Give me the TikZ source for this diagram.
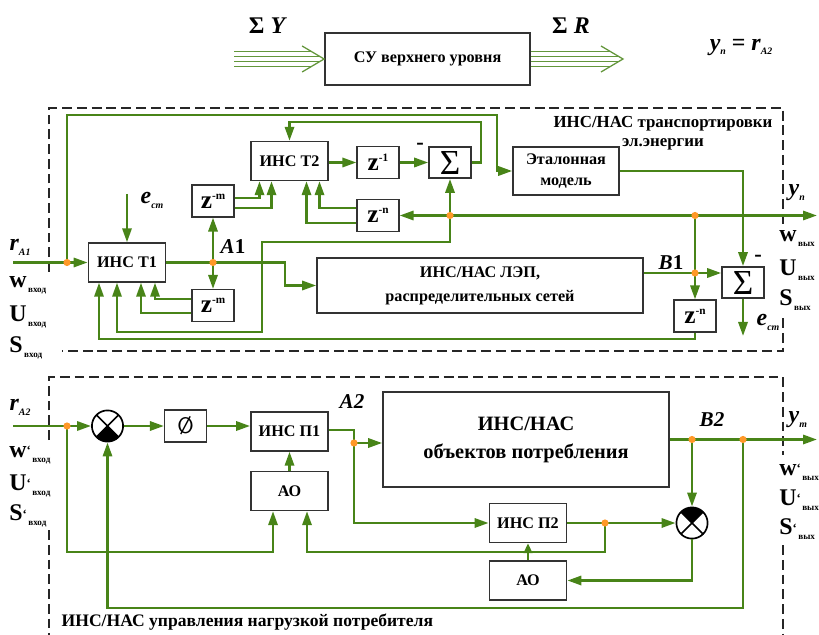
\documentclass[tikz,border=0pt]{standalone}
\usepackage{fontspec}
\setmainfont{Liberation Serif}
\usetikzlibrary{calc,arrows.meta}
\definecolor{sigGreen}{RGB}{72,132,24}
\definecolor{jOrange}{RGB}{255,152,40}
\newcommand{\zinv}[1]{z\raisebox{0.8ex}{\fontsize{8}{8}\selectfont -#1}}
\newcommand{\ivar}[2]{{\itshape #1}\raisebox{-0.45ex}{\fontsize{7}{7}\selectfont\itshape #2}}
\newcommand{\chan}[3]{#1\smash{\raisebox{0.25ex}{\fontsize{9}{9}\selectfont#2}}\smash{\raisebox{-0.45ex}{\fontsize{6.5}{7}\selectfont\,#3}}}
\tikzset{
  blk/.style={rectangle, draw=black!80, fill=white, line width=1.1pt, inner sep=0pt,
              align=center, font=\fontsize{11.5}{15}\selectfont\bfseries},
  tblk/.style={blk, minimum width=1.93cm, minimum height=0.97cm},
  zblk/.style={blk, minimum width=1.04cm, minimum height=0.79cm, font=\fontsize{18}{18}\selectfont\bfseries},
  sblk/.style={blk, minimum width=1.05cm, minimum height=0.78cm, font=\fontsize{25}{25}\selectfont},
  wire/.style={line width=1.8pt, sigGreen},
  flow/.style={wire, -{Triangle[length=3.5mm, width=2.3mm]}},
  sflow/.style={wire, -{Triangle[length=2.5mm, width=2.1mm]}},
  trip/.style={line width=0.9pt, sigGreen!85},
  jdot/.style={circle, fill=jOrange, inner sep=0pt, minimum size=1.8mm},
  dframe/.style={line width=1.1pt, black!85, dash pattern=on 7pt off 3.5pt},
  cmp/.style={circle, draw=black, fill=white, line width=1.2pt, minimum size=0.78cm, inner sep=0pt,
    path picture={
      \fill[black] (path picture bounding box.center) -- ++({#1-45}:0.5cm)
        arc[start angle={#1-45}, end angle={#1+45}, radius=0.5cm] -- cycle;
      \draw[line width=1.2pt] (path picture bounding box.north west) -- (path picture bounding box.south east)
        (path picture bounding box.north east) -- (path picture bounding box.south west);}},
  lbl/.style={inner sep=1pt, font=\fontsize{17}{17}\selectfont\bfseries},
  iv/.style={lbl, anchor=west},
  io/.style={lbl, anchor=west, inner sep=0pt},
  pnt/.style={inner sep=1pt, font=\fontsize{15}{15}\selectfont\bfseries},
  ttl/.style={inner sep=1pt, font=\fontsize{12}{13.5}\selectfont\bfseries, align=center},
  sgn/.style={inner sep=0pt, font=\fontsize{16}{16}\selectfont\bfseries},
}
\begin{document}
\begin{tikzpicture}[x=0.025cm, y=-0.025cm]
\useasboundingbox (0,0) rectangle (819,635);
% top level
\node[blk, minimum width=5.13cm, minimum height=1.3cm] (su) at (427.5,59) {СУ верхнего уровня};
\coordinate (suIn) at (234,59);
\coordinate (suOut) at (623,59);
\foreach \d in {-7.5,-2.5,2.5,7.5}{
  \draw[trip] ($(suIn)+(0,\d)$) -- ($(su.west)+({-22*abs(\d)/13},\d)$);
  \draw[trip] ($(su.east)+(0,\d)$) -- ($(suOut)+({-22*abs(\d)/13},\d)$);
}
\draw[trip] ($(su.west)+(-22,-13)$) -- (su.west) -- ($(su.west)+(-22,13)$);
\draw[trip] ($(suOut)+(-22,-13)$) -- (suOut) -- ($(suOut)+(-22,13)$);
\node[lbl] (sY) at (268,26) {Σ \textit{Y}};
\node[lbl] (sR) at (571,26) {Σ \textit{R}};
\node[lbl] (eq) at (741,47) {\ivar{y}{п} = \ivar{r}{A2}};

\draw[dframe] (49,272) |- (783,108) -- (783,228);
\draw[dframe] (783,318) |- (62,351);
\draw[dframe] (49,440) |- (783,377) -- (783,455);
\draw[dframe] (783,545) -- (783,640);
\draw[dframe] (49,530) -- (49,640);
\node[ttl] (ttlA) at (663,133) {ИНС/НАС транспортировки\\эл.энергии};
\node[ttl, anchor=west, font=\fontsize{12.5}{14}\selectfont\bfseries] (ttlB) at (60,622) {ИНС/НАС управления нагрузкой потребителя};

% transport block
\node[tblk] (t1) at (127,262.5) {ИНС Т1};
\node[zblk] (zmA) at (213,201) {\zinv{m}};
\node[zblk] (zmB) at (213,305.5) {\zinv{m}};
\node[tblk] (t2) at (289.5,161) {ИНС Т2};
\node[zblk] (z1) at (378,162.5) {\zinv{1}};
\node[zblk] (znA) at (378,215.5) {\zinv{n}};
\node[sblk] (sA) at (450,162.5) {Σ};
\node[blk, minimum width=2.65cm, minimum height=1.2cm] (ref) at (566,171) {Эталонная\\модель};
\node[blk, minimum width=8.15cm, minimum height=1.38cm, font=\fontsize{11.5}{17}\selectfont\bfseries] (lep) at (480,285.5) {ИНС/НАС ЛЭП,\\распределительных сетей};
\node[sblk] (sB) at (743,282.5) {Σ};
\node[zblk] (znB) at (695,316) {\zinv{n}};

\coordinate (rA1) at (13,262.5);
\coordinate (jA) at (67,262.5);
\coordinate (cTop) at (497,115);
\coordinate (ecIn) at (127,194);
\coordinate (cL) at (285,262.5);
\coordinate (jA1) at (t1.east -| zmA.south);
\coordinate (jY) at (695,215.5);
\coordinate (jS) at (450,215.5);
\coordinate (yOut) at (817,215.5);
\coordinate (jB1) at (695,273);
\coordinate (ecOut) at (743,336);
\coordinate (cFb) at (481,122);
\coordinate (cA) at (262,242);
\coordinate (cB) at (117,332);
\coordinate (cC) at (99,339);

\draw[flow] (rA1) -- (t1.west);
\draw[flow] (jA) |- (cTop) |- (ref.west);
\draw[flow] (ecIn) -- (ecIn |- t1.north);
\draw[flow] (t1.east) -| (cL |- lep.west) -- (lep.west);
\draw[flow] (jA1) -- (zmA.south);
\draw[flow] (jA1) -- (zmB.north);
\draw[flow] ($(zmA.east)+(0,-3)$) -| ($(t2.south)+(-30,0)$);
\draw[flow] ($(zmA.east)+(0,7)$) -| ($(t2.south)+(-18,0)$);
\draw[flow] ($(znA.west)+(0,-7.5)$) -| ($(t2.south)+(30,0)$);
\draw[flow] ($(znA.west)+(0,7.5)$) -| ($(t2.south)+(17,0)$);
\draw[flow] (z1.west -| t2.east) -- (z1.west);
\draw[flow] (z1.east) -- (sA.west);
\draw[flow] (sA.east) -| (cFb) -| (t2.north);
\draw[flow] (jY) -- (yOut);
\draw[flow] (jY) -- (znA.east);
\draw[flow] (jS) -- (sA.south);
\draw[flow] (jS) |- (cA) |- (cB) -- (t1.south -| cB);
\draw[flow] ($(zmB.west)+(0,-6.5)$) -| ($(t1.south)+(28,0)$);
\draw[flow] ($(zmB.west)+(0,7.5)$) -| ($(t1.south)+(14,0)$);
\draw[flow] (znB.south) |- (cC) -- (t1.south -| cC);
\draw[wire] (jY) -- (jB1);
\draw[flow] (jB1) -- (znB.north);
\draw[flow] (lep.east |- jB1) -- (sB.west |- jB1);
\draw[flow] (ref.east) -| (sB.north);
\draw[flow] (sB.south) -- (ecOut);
\foreach \p in {jA,jA1,jS,jY,jB1} \node[jdot] at (\p) {};

\node[sgn] (mA) at (420,146) {-};
\node[sgn] (mB) at (758,258) {-};
\node[lbl] (lEc) at (152,200) {\ivar{e}{ст}};
\node[pnt] (lA1) at (233,247) {\textit{A}1};
\node[pnt] (lB1) at (671,263) {\textit{B}1};
\node[lbl] (lEcB) at (768,322) {\ivar{e}{ст}};
\node[iv] (lrA1) at (8,247) {\ivar{r}{A1}};
\node[io] (lwA) at (9,282) {\chan{w}{}{вход}};
\node[io] (lUA) at (9,314) {\chan{U}{}{вход}};
\node[io] (lSA) at (9,345) {\chan{S}{}{вход}};
\node[iv] (lyn) at (787,193) {\ivar{y}{п}};
\node[io] (lwB) at (779,236) {\chan{w}{}{вых}};
\node[io] (lUB) at (779,268) {\chan{U}{}{вых}};
\node[io] (lSB) at (779,298) {\chan{S}{}{вых}};

% consumer block
\node[cmp=270] (cpL) at (107.5,426) {};
\node[zblk, font=\fontsize{16}{16}\selectfont\sffamily] (phi) at (185.5,426) {Ø};
\node[tblk] (p1) at (289.5,431.5) {ИНС П1};
\node[tblk] (aoA) at (289.5,491) {АО};
\node[blk, minimum width=7.15cm, minimum height=2.38cm, font=\fontsize{14.5}{20}\selectfont\bfseries] (obj) at (526,439.5) {ИНС/НАС\\объектов потребления};
\node[tblk] (p2) at (528,523) {ИНС П2};
\node[tblk] (aoB) at (528,580.5) {АО};
\node[cmp=90] (cpR) at (692,523) {};

\coordinate (rA2) at (13,426);
\coordinate (jC) at (67,426);
\coordinate (jD) at (354,443);
\coordinate (jE) at (692,439.5);
\coordinate (jF) at (743,439.5);
\coordinate (ymOut) at (817,439.5);
\coordinate (cG) at (743,608);
\coordinate (jH) at (605,523);
\coordinate (cI) at (307,552);
\coordinate (cJ) at (273,552);

\draw[flow] (rA2) -- (cpL.west);
\draw[flow] (cpL.east) -- (phi.west);
\draw[flow] (phi.east) -- (p1.west |- phi.east);
\draw[flow] (aoA.north) -- (p1.south);
\draw[wire] ($(p1.east)+(0,-1.5)$) -| (jD);
\draw[flow] (jD) -- (obj.west |- jD);
\draw[flow] (jD) |- (p2.west);
\draw[flow] (obj.east) -- (ymOut);
\draw[flow] (jE) -- (cpR.north);
\draw[flow] (jF) -- (cG) -| (cpL.south);
\draw[flow] (p2.east) -- (cpR.west);
\draw[flow] (jH) |- (cI) -- (aoA.south -| cI);
\draw[flow] (jC) |- (cJ) -- (aoA.south -| cJ);
\draw[sflow] (aoB.north) -- (p2.south);
\draw[flow] (cpR.south) |- (aoB.east);
\foreach \p in {jC,jD,jE,jF,jH} \node[jdot] at (\p) {};

\node[iv] (lrA2) at (8,407) {\ivar{r}{A2}};
\node[io] (lwC) at (9,452) {\chan{w}{‘}{вход}};
\node[io] (lUC) at (9,483) {\chan{U}{‘}{вход}};
\node[io] (lSC) at (9,513) {\chan{S}{‘}{вход}};
\node[pnt] (lA2) at (352,402) {\textit{A2}};
\node[pnt] (lB2) at (712,420) {\textit{B2}};
\node[iv] (lym) at (787,420) {\ivar{y}{т}};
\node[io] (lwD) at (779,470) {\chan{w}{‘}{вых}};
\node[io] (lUD) at (779,498) {\chan{U}{‘}{вых}};
\node[io] (lSD) at (779,527) {\chan{S}{‘}{вых}};
\end{tikzpicture}
\end{document}
